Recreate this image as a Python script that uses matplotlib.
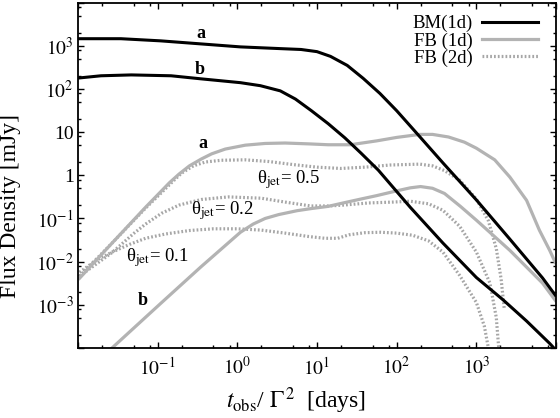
import numpy as np
import matplotlib
matplotlib.use('Agg')
import matplotlib.pyplot as plt
from matplotlib.ticker import FixedLocator, FixedFormatter, LogLocator, NullFormatter

plt.rcParams['font.family'] = 'serif'
plt.rcParams['font.serif'] = ['Liberation Serif', 'DejaVu Serif']
plt.rcParams['mathtext.fontset'] = 'stix'

# values, as log10(t_obs/Gamma^2 [days]) and log10(flux [mJy])
bm_a_lt = [-1.98, -1.46, -0.96, -0.46, 0.04, 0.54, 0.8, 1.0, 1.17, 1.38, 1.58, 1.79, 2.00, 2.25, 2.58, 3.00, 3.42, 3.83, 3.99]
bm_a_lf = [3.17, 3.17, 3.12, 3.05, 2.98, 2.94, 2.92, 2.87, 2.76, 2.55, 2.25, 1.90, 1.50, 0.98, 0.29, -0.57, -1.48, -2.38, -2.78]

bm_b_lt = [-1.98, -1.71, -1.33, -0.83, -0.46, 0.04, 0.29, 0.54, 0.73, 0.93, 1.14, 1.35, 1.55, 1.77, 2.17, 2.58, 3.00, 3.33, 3.63, 3.92, 3.98]
bm_b_lf = [2.26, 2.31, 2.33, 2.31, 2.24, 2.15, 2.08, 1.96, 1.77, 1.50, 1.20, 0.87, 0.52, 0.12, -0.74, -1.57, -2.37, -2.88, -3.38, -3.90, -4.02]

fb_a_lt = [-1.98, -1.57, -1.15, -0.85, -0.73, -0.6, -0.45, -0.32, -0.15, 0.10, 0.35, 0.6, 0.9, 1.14, 1.42, 1.75, 2.0, 2.29, 2.45, 2.65, 2.85, 3.00, 3.23, 3.42, 3.63, 3.79, 3.92, 3.99]
fb_a_lf = [-2.39, -1.57, -0.74, -0.17, 0.03, 0.22, 0.38, 0.50, 0.61, 0.70, 0.74, 0.75, 0.73, 0.71, 0.71, 0.80, 0.88, 0.95, 0.95, 0.89, 0.77, 0.63, 0.36, -0.04, -0.58, -1.27, -1.74, -2.02]

fb_b_lt = [-1.58, -0.96, -0.46, 0.04, 0.2, 0.35, 0.52, 0.75, 0.93, 1.14, 1.33, 1.55, 1.75, 2.0, 2.17, 2.3, 2.45, 2.6, 2.8, 3.00, 3.42, 3.83, 3.99]
fb_b_lf = [-4.02, -2.97, -2.13, -1.32, -1.13, -1.00, -0.91, -0.82, -0.77, -0.72, -0.64, -0.55, -0.47, -0.36, -0.29, -0.26, -0.30, -0.42, -0.72, -1.04, -1.74, -2.50, -2.90]

th05_lt = [-1.98, -1.57, -1.15, -0.95, -0.83, -0.7, -0.55, -0.4, -0.2, 0.1, 0.4, 0.7, 1.0, 1.3, 1.6, 1.92, 2.29, 2.45, 2.6, 2.79, 3.0, 3.15, 3.25, 3.31, 3.35]
th05_lf = [-2.34, -1.57, -0.76, -0.40, -0.18, 0.05, 0.22, 0.31, 0.35, 0.36, 0.32, 0.25, 0.19, 0.16, 0.19, 0.24, 0.26, 0.22, 0.11, -0.11, -0.55, -1.05, -1.70, -2.40, -3.10]

th02_lt = [-1.98, -1.57, -1.3, -1.15, -0.95, -0.73, -0.45, -0.11, 0.3, 0.6, 0.92, 1.15, 1.33, 1.65, 1.95, 2.17, 2.4, 2.58, 2.79, 3.0, 3.17, 3.25, 3.28]
th02_lf = [-2.34, -1.79, -1.35, -1.13, -0.88, -0.69, -0.56, -0.50, -0.53, -0.62, -0.71, -0.71, -0.69, -0.64, -0.62, -0.60, -0.66, -0.81, -1.18, -1.78, -2.50, -3.30, -4.00]

th01_lt = [-1.98, -1.77, -1.57, -1.35, -1.15, -0.9, -0.6, -0.3, 0.0, 0.3, 0.6, 0.9, 1.1, 1.26, 1.4, 1.6, 1.8, 2.0, 2.2, 2.4, 2.58, 2.79, 3.0, 3.1, 3.15]
th01_lf = [-2.25, -1.97, -1.78, -1.60, -1.46, -1.36, -1.28, -1.24, -1.24, -1.27, -1.34, -1.42, -1.46, -1.46, -1.38, -1.33, -1.32, -1.34, -1.39, -1.52, -1.78, -2.32, -2.95, -3.50, -4.00]

ytick_vals = [1e-4, 1e-3, 1e-2, 1e-1, 1, 10, 1e2, 1e3, 1e4]
ytick_labels = ['', r'$10^{-3}$', r'$10^{-2}$', r'$10^{-1}$', '1', '10', r'$10^{2}$', r'$10^{3}$', '']
xtick_vals = [1e-2, 1e-1, 1, 10, 1e2, 1e3, 1e4]
xtick_labels = ['', r'$10^{-1}$', r'$10^{0}$', r'$10^{1}$', r'$10^{2}$', r'$10^{3}$', '']

black = '#000000'
grey = '#b3b3b3'
dgrey = '#a6a6a6'
dots = (0, (0.55, 0.65))

fig = plt.figure(figsize=(5.6, 4.18), dpi=100)
ax = fig.add_axes([0.139, 0.168, 0.854, 0.825])


def p(lt, lf):
    return 10 ** np.array(lt), 10 ** np.array(lf)


ax.plot(*p(th05_lt, th05_lf), color=dgrey, lw=2.3, ls=dots)
ax.plot(*p(th02_lt, th02_lf), color=dgrey, lw=2.3, ls=dots)
ax.plot(*p(th01_lt, th01_lf), color=dgrey, lw=2.3, ls=dots, label='FB (2d)')
ax.plot(*p(fb_a_lt, fb_a_lf), color=grey, lw=2.3, label='FB (1d)')
ax.plot(*p(fb_b_lt, fb_b_lf), color=grey, lw=2.3)
ax.plot(*p(bm_a_lt, bm_a_lf), color=black, lw=2.2, label='BM(1d)')
ax.plot(*p(bm_b_lt, bm_b_lf), color=black, lw=2.2)

ax.set_xscale('log')
ax.set_yscale('log')
ax.set_xlim(1e-2, 1e4)
ax.set_ylim(1e-4, 1e4)

ax.yaxis.set_major_locator(FixedLocator(ytick_vals))
ax.yaxis.set_major_formatter(FixedFormatter(ytick_labels))
ax.xaxis.set_major_locator(FixedLocator(xtick_vals))
ax.xaxis.set_major_formatter(FixedFormatter(xtick_labels))
for a in (ax.xaxis, ax.yaxis):
    a.set_minor_locator(LogLocator(base=10, subs=(2, 5, 8), numticks=20))
    a.set_minor_formatter(NullFormatter())
ax.tick_params(which='both', direction='in', top=True, right=True, labelsize=14, width=1)
ax.tick_params(which='major', length=4.5)
ax.tick_params(axis='y', which='major', pad=3)
ax.tick_params(axis='x', which='major', pad=6)
ax.tick_params(which='minor', length=2.5)
for s in ax.spines.values():
    s.set_linewidth(1.3)

ax.set_ylabel('Flux Density [mJy]', fontsize=17)
ax.yaxis.set_label_coords(-0.118, 0.41)
ax.set_xlabel(r'$t_{\rm obs}$/ $\Gamma^{\,2}$  [days]', fontsize=17)
ax.xaxis.set_label_coords(0.455, -0.11)

# curve labels
ax.text(0.35, 2000, 'a', fontsize=13, fontweight='bold', ha='center', va='center')
ax.text(0.34, 290, 'b', fontsize=13, fontweight='bold', ha='center', va='center')
ax.text(0.37, 5.6, 'a', fontsize=13, fontweight='bold', ha='center', va='center')
ax.text(0.066, 1.25e-3, 'b', fontsize=13, fontweight='bold', ha='center', va='center')
ax.text(1.75, 0.78, r'θ$_{\rm jet}$= 0.5', fontsize=13.5, va='center')
ax.text(0.26, 0.155, r'θ$_{\rm jet}$= 0.2', fontsize=13.5, va='center')
ax.text(0.04, 0.0126, r'θ$_{\rm jet}$= 0.1', fontsize=13.5, va='center')

h, l = ax.get_legend_handles_labels()
order = [l.index('BM(1d)'), l.index('FB (1d)'), l.index('FB (2d)')]
ax.legend([h[i] for i in order], [l[i] for i in order], loc='upper right',
          bbox_to_anchor=(0.962, 0.965), frameon=False, markerfirst=False,
          borderaxespad=0, borderpad=0,
          handlelength=3.0, handletextpad=0.5, labelspacing=0.0, fontsize=13.5)

fig.savefig('out.png', dpi=100)
